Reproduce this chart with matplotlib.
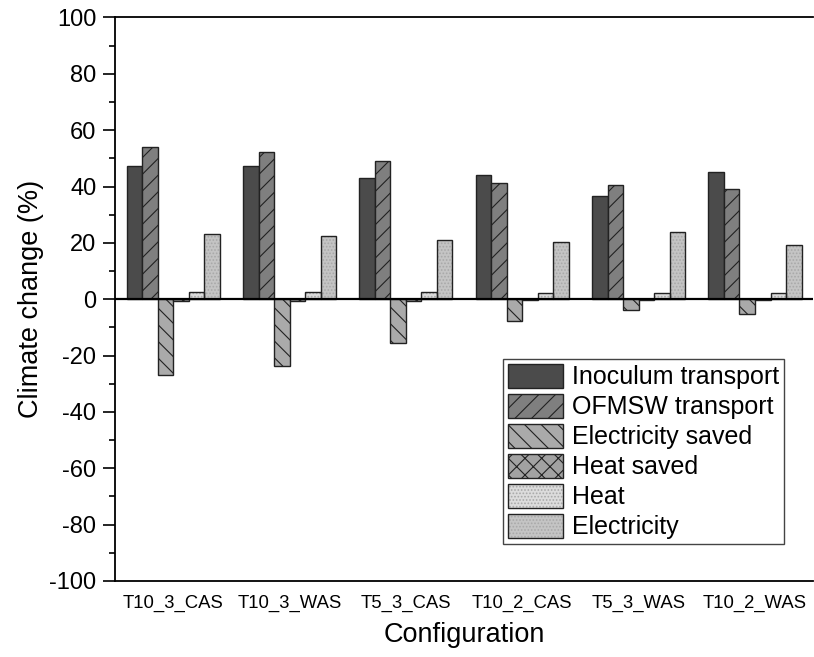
import matplotlib
matplotlib.use("Agg")
import matplotlib.pyplot as plt
import numpy as np
from matplotlib.ticker import MultipleLocator
from matplotlib.legend_handler import HandlerTuple

plt.rcParams['font.family'] = ['Liberation Sans', 'DejaVu Sans']
plt.rcParams['hatch.linewidth'] = 0.8
plt.rcParams['axes.unicode_minus'] = False

categories = ["T10_3_CAS", "T10_3_WAS", "T5_3_CAS", "T10_2_CAS", "T5_3_WAS", "T10_2_WAS"]
inoculum = [47.3, 47.3, 42.9, 44.1, 36.7, 45.0]
ofmsw = [54.1, 52.1, 49.1, 41.1, 40.6, 39.2]
elec_saved = [-27.0, -23.7, -15.4, -7.8, -3.7, -5.4]
heat_saved = [-0.7, -0.7, -0.5, -0.3, -0.3, -0.3]
heat = [2.7, 2.7, 2.4, 2.3, 2.3, 2.2]
electricity = [23.2, 22.3, 20.9, 20.4, 24.0, 19.2]

series_names = ["Inoculum transport", "OFMSW transport", "Electricity saved",
                "Heat saved", "Heat", "Electricity"]
series_values = [inoculum, ofmsw, elec_saved, heat_saved, heat, electricity]
face_colors = ["#4b4b4b", "#7f7f7f", "#aaaaaa", "#a2a2a2", "#dcdcdc", "#c4c4c4"]
hatches = [None, "//", "\\\\", "xx", ".....", "....."]
dotted = [False, False, False, False, True, True]

fig = plt.figure(figsize=(8.14, 6.57), dpi=100)
ax = fig.add_axes([0.1413, 0.1157, 0.8577, 0.8577])

x = np.arange(len(categories))
n = len(series_values)
w = 0.8 / n
edge = "#222222"
handles = []
for i, (name, vals) in enumerate(zip(series_names, series_values)):
    pos = x + (i - (n - 1) / 2) * w
    if dotted[i]:
        b1 = ax.bar(pos, vals, w, color=face_colors[i], hatch=hatches[i],
                    edgecolor="#a8a8a8", linewidth=0, zorder=2)
        b2 = ax.bar(pos, vals, w, fill=False, edgecolor=edge, linewidth=1.0, zorder=3)
        handles.append((b1[0], b2[0]))
    else:
        b = ax.bar(pos, vals, w, color=face_colors[i], hatch=hatches[i],
                   edgecolor=edge, linewidth=1.0, zorder=2)
        handles.append(b[0])

ax.axhline(0, color="black", linewidth=1.6, zorder=4)

ax.set_xlim(-0.5, len(categories) - 0.5)
ax.set_ylim(-100, 100)
ax.yaxis.set_major_locator(MultipleLocator(20))
ax.yaxis.set_minor_locator(MultipleLocator(10))
ax.set_xticks(x)
ax.set_xticklabels(categories, fontsize=13.3)
ax.tick_params(axis='x', length=0, pad=10)
ax.tick_params(axis='y', which='major', direction='out', length=8.4, width=1.2,
               labelsize=17, pad=5)
ax.tick_params(axis='y', which='minor', direction='out', length=4, width=1.2)

for s in ['left', 'top', 'bottom']:
    ax.spines[s].set_linewidth(1.3)
ax.spines['right'].set_visible(False)

ax.set_xlabel("Configuration", fontsize=19.5, labelpad=7)
ax.set_ylabel("Climate change (%)", fontsize=19.5, labelpad=3.5)

leg = ax.legend(handles, series_names, loc='lower right',
                bbox_to_anchor=(784 / 814, 1 - 544 / 657),
                bbox_transform=fig.transFigure,
                fontsize=18, handlelength=2.2, handleheight=1.1,
                handletextpad=0.36, labelspacing=0.18, borderpad=0.2,
                borderaxespad=0, fancybox=False, framealpha=1,
                edgecolor="#444444",
                handler_map={tuple: HandlerTuple(ndivide=1)})
leg.get_frame().set_linewidth(1.0)

fig.savefig("out.png", dpi=100)
